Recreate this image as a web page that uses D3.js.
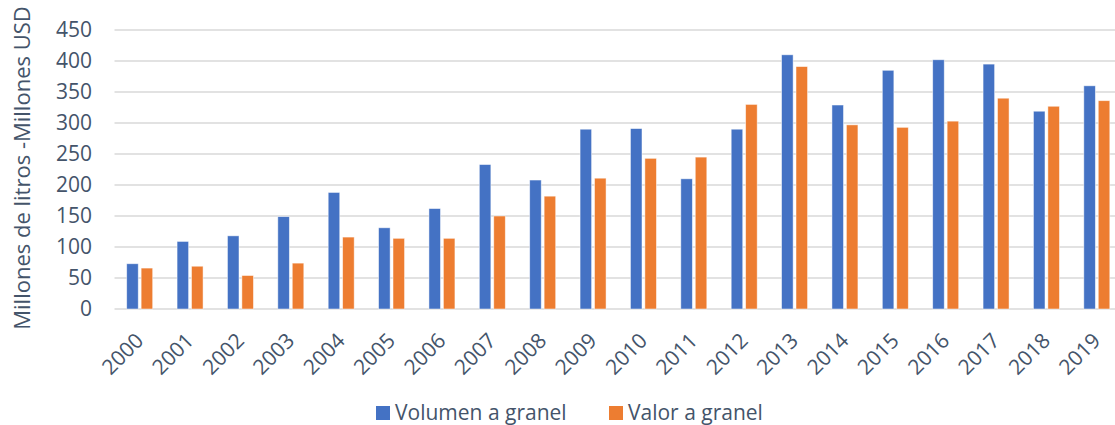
<!DOCTYPE html>
<html>
<head>
<meta charset="utf-8">
<script src="https://cdn.jsdelivr.net/npm/d3@7"></script>
<style>
  body { margin: 0; background: #fff; }
  text { font-family: "Open Sans", sans-serif; fill: #44546A; }
</style>
</head>
<body>
<div id="chart"></div>
<script>
// data
const years = ["2000","2001","2002","2003","2004","2005","2006","2007","2008","2009",
               "2010","2011","2012","2013","2014","2015","2016","2017","2018","2019"];
const volumen = [73, 109, 118, 149, 188, 131, 162, 233, 208, 290,
                 291, 210, 290, 410, 329, 385, 402, 395, 319, 360];
const valor = [66, 69, 54, 74, 116, 114, 114, 150, 182, 211,
               243, 245, 330, 391, 297, 293, 303, 340, 327, 336];
const seriesNames = ["Volumen a granel", "Valor a granel"];
const colors = ["#4472C4", "#ED7D31"];
const yTicks = [0, 50, 100, 150, 200, 250, 300, 350, 400, 450];

const width = 1115, height = 425;
const svg = d3.select("#chart").append("svg")
    .attr("width", width)
    .attr("height", height);

// scales
const x0 = d3.scaleBand()
    .domain(years)
    .range([114.5, 1122])
    .paddingInner(0.484)
    .paddingOuter(0.242);

const x1 = d3.scaleBand()
    .domain([0, 1])
    .range([0, x0.bandwidth()])
    .paddingInner(0.2);

const y = d3.scaleLinear()
    .domain([0, 450])
    .range([309, 30]);

// gridlines
svg.append("g")
  .selectAll("line")
  .data(yTicks)
  .join("line")
    .attr("x1", 114.5)
    .attr("x2", 1115)
    .attr("y1", d => y(d))
    .attr("y2", d => y(d))
    .attr("stroke", "#d9d9d9")
    .attr("stroke-width", 1.5);

// y axis labels
const yAxis = svg.append("g")
    .attr("transform", "translate(100,0)")
    .call(d3.axisLeft(y).tickValues(yTicks).tickSize(0).tickPadding(8));
yAxis.select(".domain").remove();
yAxis.selectAll("text")
    .style("font-size", "21px")
    .style("font-family", "'Open Sans', sans-serif")
    .attr("fill", "#44546A");

// bars
const rows = years.map((yr, i) => ({ year: yr, values: [volumen[i], valor[i]] }));
svg.append("g")
  .selectAll("g")
  .data(rows)
  .join("g")
    .attr("transform", d => `translate(${x0(d.year)},0)`)
  .selectAll("rect")
  .data(d => d.values.map((v, k) => ({ k, v })))
  .join("rect")
    .attr("x", d => x1(d.k))
    .attr("width", x1.bandwidth())
    .attr("y", d => y(d.v))
    .attr("height", d => y(0) - y(d.v))
    .attr("fill", d => colors[d.k])
    .attr("stroke", "#ffffff")
    .attr("stroke-opacity", 0.6)
    .attr("stroke-width", 0.8);

// x axis labels
const xAxis = svg.append("g")
    .attr("transform", `translate(0,${y(0)})`)
    .call(d3.axisBottom(x0).tickSize(0).tickPadding(0));
xAxis.select(".domain").remove();
xAxis.selectAll("text")
    .style("font-size", "21px")
    .style("font-family", "'Open Sans', sans-serif")
    .attr("fill", "#44546A")
    .attr("text-anchor", "end")
    .attr("dy", null)
    .attr("y", 0)
    .attr("transform", "translate(5,33) rotate(-45)");

// axis title
svg.append("text")
    .attr("transform", "translate(30,168) rotate(-90)")
    .attr("text-anchor", "middle")
    .style("font-size", "22px")
    .text("Millones de litros -Millones USD");

// legend
const legend = svg.append("g")
  .selectAll("g")
  .data(seriesNames)
  .join("g")
    .attr("transform", (d, i) => `translate(${[376, 609][i]},406)`);
legend.append("rect")
    .attr("width", 14)
    .attr("height", 14)
    .attr("fill", (d, i) => colors[i]);
legend.append("text")
    .attr("x", 19)
    .attr("y", 14)
    .style("font-size", "21px")
    .text(d => d);
</script>
</body>
</html>
